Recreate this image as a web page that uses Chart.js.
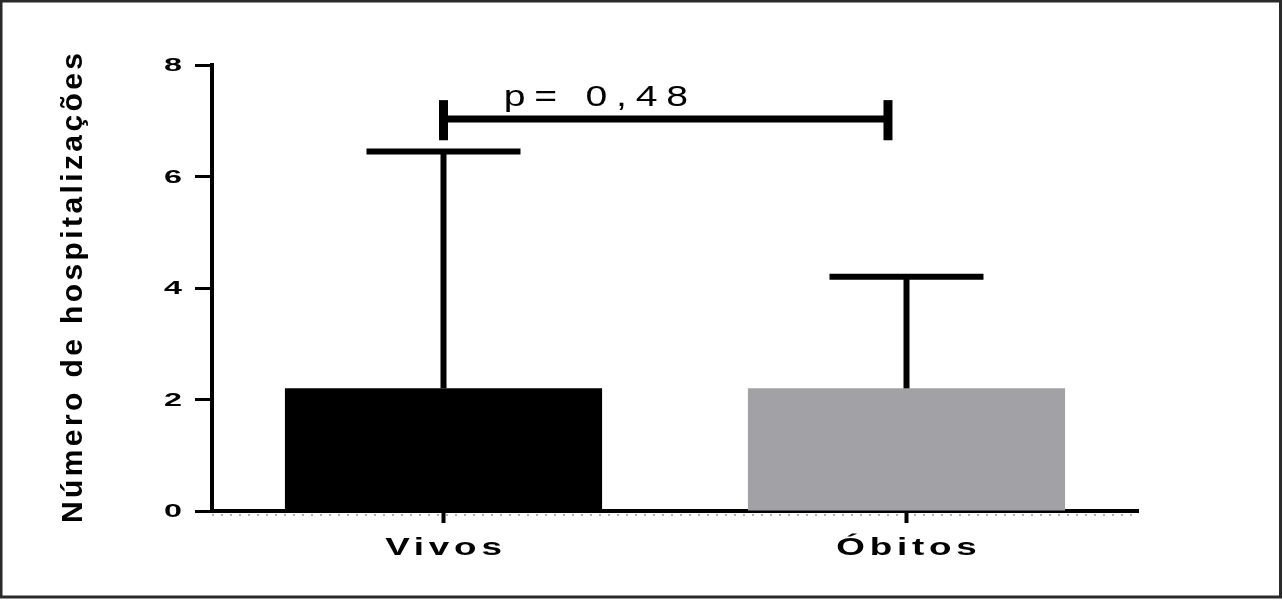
<!DOCTYPE html>
<html>
<head>
<meta charset="utf-8">
<script src="https://cdn.jsdelivr.net/npm/chart.js@4.4.1/dist/chart.umd.min.js"></script>
<style>
body{margin:0;background:#fff}
canvas{display:block}
</style>
</head>
<body>
<canvas id="chart" width="1283" height="600"></canvas>
<script>
const categories = ['Vivos', 'Óbitos']
const means = [2.2, 2.2]
const sds = [4.25, 2.0]
const barColors = ['#000000', '#a2a1a5']
const yTicks = [0, 2, 4, 6, 8]
const yTitle = 'Número de hospitalizações'
const pLabel = 'p= 0,48'
const bracketX = [0, 0.96]       // em unidades de categoria
const bracketY = 7.03
const bracketEnds = [6.65, 7.37]
const pPos = [0.13, 7.27]

// texto esticado na horizontal, com espaçamento entre letras
function spacedText(ctx, text, x, y, font, spacing, sx, align){
    ctx.save()
    ctx.translate(x, y)
    ctx.scale(sx, 1)
    ctx.font = font
    ctx.letterSpacing = spacing + 'px'
    ctx.textAlign = 'left'
    let w = ctx.measureText(text).width - spacing
    let start = 0
    if (align == 'center') start = -w / 2
    if (align == 'right') start = -w
    ctx.fillText(text, start, 0)
    ctx.restore()
}

const extras = {
    id: 'extras',
    afterDatasetsDraw(chart){
        const ctx = chart.ctx
        const x = chart.scales.x, y = chart.scales.y
        const meta = chart.getDatasetMeta(0)
        ctx.save()
        ctx.strokeStyle = '#000'
        ctx.lineWidth = 6
        meta.data.forEach((bar, i) => {
            const top = y.getPixelForValue(means[i] + sds[i])
            ctx.beginPath()
            ctx.moveTo(bar.x, bar.y)
            ctx.lineTo(bar.x, top)
            ctx.stroke()
            ctx.beginPath()
            ctx.moveTo(bar.x - 77, top)
            ctx.lineTo(bar.x + 77, top)
            ctx.stroke()
        })
        // barra do p-valor
        const bx0 = x.getPixelForValue(bracketX[0]), bx1 = x.getPixelForValue(bracketX[1])
        const by = y.getPixelForValue(bracketY)
        ctx.lineWidth = 7
        ctx.beginPath()
        ctx.moveTo(bx0, by)
        ctx.lineTo(bx1, by)
        ctx.stroke()
        ctx.lineWidth = 9
        for (let bx of [bx0, bx1]){
            ctx.beginPath()
            ctx.moveTo(bx, y.getPixelForValue(bracketEnds[0]))
            ctx.lineTo(bx, y.getPixelForValue(bracketEnds[1]))
            ctx.stroke()
        }
        // tracinhos sob o eixo x
        ctx.strokeStyle = 'rgba(0,0,0,0.3)'
        ctx.lineWidth = 2
        ctx.setLineDash([2, 7])
        ctx.beginPath()
        ctx.moveTo(chart.chartArea.left, y.getPixelForValue(0) + 4)
        ctx.lineTo(chart.chartArea.right, y.getPixelForValue(0) + 4)
        ctx.stroke()
        ctx.restore()
    },
    afterDraw(chart){
        const ctx = chart.ctx
        const x = chart.scales.x, y = chart.scales.y
        const area = chart.chartArea
        ctx.save()
        ctx.fillStyle = '#000'
        ctx.textBaseline = 'alphabetic'
        categories.forEach((c, i) => {
            spacedText(ctx, c, x.getPixelForValue(i), 555, 'bold 23px "Liberation Sans"', 3, 1.6, 'center')
        })
        ctx.textBaseline = 'middle'
        yTicks.forEach(v => {
            spacedText(ctx, String(v), 182, y.getPixelForValue(v) + 1, 'bold 19px "Liberation Sans"', 0, 1.7, 'right')
        })
        ctx.textBaseline = 'alphabetic'
        spacedText(ctx, pLabel, x.getPixelForValue(pPos[0]), y.getPixelForValue(pPos[1]), '29px "Liberation Sans"', 6.5, 1.35, 'left')
        ctx.save()
        ctx.translate(74, (area.top + area.bottom) / 2)
        ctx.rotate(-Math.PI / 2)
        ctx.textBaseline = 'middle'
        spacedText(ctx, yTitle, 0, 0, 'bold 30px "Liberation Sans"', 3.4, 1, 'center')
        ctx.restore()
        // moldura
        ctx.strokeStyle = '#2a2a2a'
        ctx.lineWidth = 3
        ctx.strokeRect(1, 1, 1279.5, 596)
        ctx.restore()
    }
}

Chart.defaults.animation = false
Chart.defaults.color = '#000'

new Chart(document.getElementById('chart'), {
    type: 'bar',
    data: {
        labels: categories,
        datasets: [{
            data: means,
            backgroundColor: barColors,
            borderWidth: 0,
            barPercentage: 0.685,
            categoryPercentage: 1
        }]
    },
    options: {
        responsive: false,
        layout: {
            padding: {top: 65, right: 145, left: 0, bottom: 0}
        },
        scales: {
            x: {
                grid: {
                    offset: false,
                    drawOnChartArea: false,
                    tickLength: 12,
                    tickWidth: 4,
                    tickColor: '#000'
                },
                border: {color: '#000', width: 4},
                ticks: {display: false},
                afterFit(scale){ scale.height = 89 }
            },
            y: {
                min: 0,
                max: 8,
                afterBuildTicks(scale){ scale.ticks = yTicks.map(v => ({value: v})) },
                grid: {
                    drawOnChartArea: false,
                    tickLength: 17,
                    tickWidth: 3,
                    tickColor: '#000'
                },
                border: {color: '#000', width: 4},
                ticks: {display: false},
                afterFit(scale){ scale.width = 212 }
            }
        },
        plugins: {
            legend: {display: false},
            tooltip: {enabled: false}
        }
    },
    plugins: [extras]
})
</script>
</body>
</html>
